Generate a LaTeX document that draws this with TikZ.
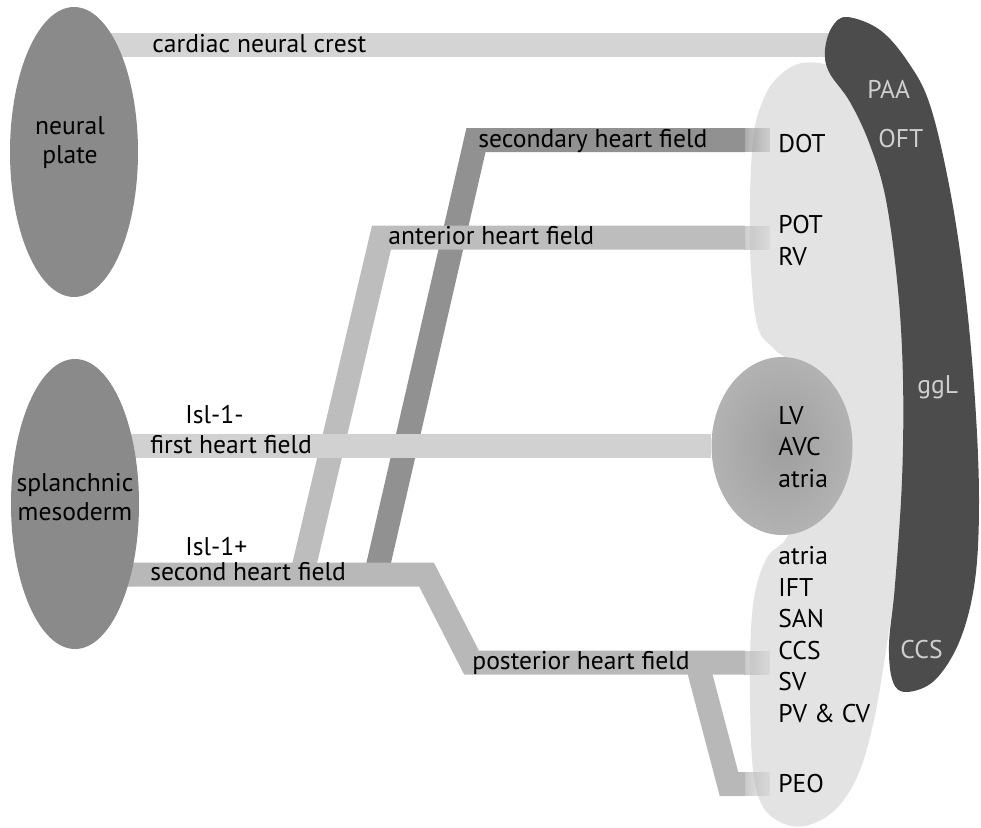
\documentclass[tikz,border=0pt]{standalone}
\usepackage{fontspec}
\setmainfont{PT Sans}
\usetikzlibrary{shapes.geometric,calc,fadings}
\pgfdeclarelayer{bg}
\pgfsetlayers{bg,main}
\colorlet{heartc}{black!11}
\colorlet{tubec}{black!70}
\colorlet{ncc}{black!17}
\colorlet{secc}{black!43}
\colorlet{antc}{black!26}
\colorlet{fhfc}{black!18}
\colorlet{shfc}{black!28}
\newcommand{\heartfont}{\fontsize{12.8}{15.75}\selectfont}
\newcommand{\tissuefont}{\fontsize{12.8}{14.5}\selectfont}
\begin{document}
\begin{tikzpicture}[x=0.5pt,y=-0.5pt]
\tikzstyle{blob}=[ellipse, fill=black!46, inner sep=0pt, minimum width=64pt, minimum height=145pt]
\tikzstyle{lv-blob}=[ellipse, inner color=black!38, outer color=black!30, inner sep=0pt, minimum width=70.5pt, minimum height=89pt]
\tikzstyle{band}=[line width=12pt, line join=miter]
\tikzstyle{band-tip}=[line width=12pt, path fading=east]
\tikzstyle{lbl}=[font=\heartfont, inner sep=0pt, anchor=base west, align=left]
\tikzstyle{lbl-mid}=[font=\tissuefont, inner sep=0pt, anchor=base, align=center]
\tikzstyle{lbl-light}=[lbl, text=black!19]

\useasboundingbox (0,0) rectangle (981,827);

% tissues of origin
\node[blob] (np) at (74,152) {};
\node[blob] (sm) at (75,504) {};
\node[lbl-mid] (npl) at (70,163) {neural\\plate};
\node[lbl-mid] (sml) at (75,520) {splanchnic\\mesoderm};

% heart regions
\node[lv-blob] (lv) at (782,446) {};
\node[lbl] (dot) at (778,152) {DOT};
\node[lbl] (pot) at (778,265) {POT\\RV};
\node[lbl] (lvt) at (778,487) {LV\\AVC\\atria};
\node[lbl] (lower) at (778,722) {atria\\IFT\\SAN\\CCS\\SV\\PV \& CV};
\node[lbl] (peo) at (778,792) {PEO};
\node[lbl-light] (paa) at (867,98) {PAA};
\node[lbl-light] (oft) at (878,147) {OFT};
\node[lbl-light] (ggl) at (917,393) {ggL};
\node[lbl-light] (ccs) at (900,658) {CCS};

% field names
\node[lbl] (ncl) at (152,52) {cardiac neural crest};
\node[lbl] (secl) at (478,147) {secondary heart field};
\node[lbl] (antl) at (388,244) {anterior heart field};
\node[lbl] (isl-) at (185,423) {Isl-1-};
\node[lbl] (fhfl) at (150,453) {first heart field};
\node[lbl] (isl+) at (185,555) {Isl-1+};
\node[lbl] (shfl) at (150,580) {second heart field};
\node[lbl] (phfl) at (472,669) {posterior heart field};

% bends
\coordinate (nc) at (850,45);
\coordinate (d0) at (376,574.5);
\coordinate (d1) at (476,140);
\coordinate (a0) at (302,574.5);
\coordinate (a1) at (381.5,237.5);
\coordinate (s0) at (426.5,574.5);
\coordinate (s1) at (471.5,662.5);
\coordinate (p0) at (697,662.5);
\coordinate (p1) at (729,784);

\begin{pgfonlayer}{bg}
\fill[heartc] plot[smooth cycle, tension=0.6] coordinates {(802,63) (838,70) (872,108) (893,180) (903,280) (906,400) (903,500) (896,580) (886,650) (874,720) (858,775) (835,810) (805,826) (780,822) (762,805) (753,770) (750,700) (751,630) (756,588) (768,556) (790,530) (800,450) (795,372) (775,350) (758,328) (751,270) (750,200) (753,140) (760,108) (775,80)};
\draw[band, ncc] (np.center |- nc) -- (nc);
\fill[tubec] plot[smooth cycle, tension=0.6] coordinates {(847,17) (880,30) (908,62) (930,105) (950,190) (965,290) (975,400) (979,500) (975,580) (960,640) (935,680) (907,692) (893,682) (889,645) (895,585) (902,480) (903,380) (898,290) (886,200) (870,145) (850,102) (829,72) (825,50) (832,27)};

\draw[band, secc] (d0) -- (d1) -- ($(d1 -| dot.west)+(-33,0)$);
\draw[band-tip, secc] ($(d1 -| dot.west)+(-34,0)$) -- ($(d1 -| dot.west)+(-8,0)$);
\draw[band, antc] (a0) -- (a1) -- ($(a1 -| pot.west)+(-33,0)$);
\draw[band-tip, antc] ($(a1 -| pot.west)+(-34,0)$) -- ($(a1 -| pot.west)+(-8,0)$);
\draw[band, shfc] (p0) -- (p1) -- ($(p1 -| peo.west)+(-33,0)$);
\draw[band-tip, shfc] ($(p1 -| peo.west)+(-34,0)$) -- ($(p1 -| peo.west)+(-8,0)$);
\draw[band, shfc] (sm.center |- s0) -- (s0) -- (s1) -- ($(s1 -| lower.west)+(-33,0)$);
\draw[band-tip, shfc] ($(s1 -| lower.west)+(-34,0)$) -- ($(s1 -| lower.west)+(-8,0)$);
\draw[band, fhfc] (sm.center |- lv) -- (lv);
\end{pgfonlayer}
\end{tikzpicture}
\end{document}
